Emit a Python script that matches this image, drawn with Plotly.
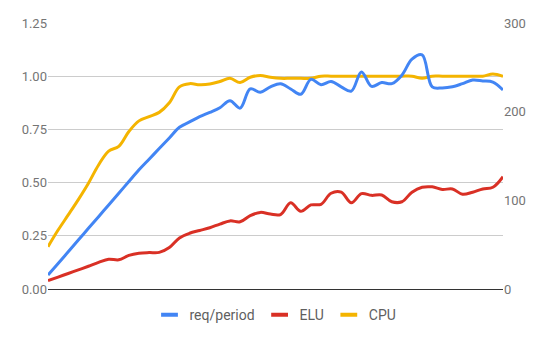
import plotly.graph_objects as go

idx = list(range(46))

req_fraction = [0.066, 0.12, 0.175, 0.23, 0.285, 0.34, 0.395, 0.45, 0.505, 0.56,
                0.61, 0.66, 0.71, 0.76, 0.785, 0.81, 0.83, 0.852, 0.885, 0.85,
                0.94, 0.925, 0.95, 0.965, 0.94, 0.915, 0.985, 0.96, 0.975, 0.95,
                0.93, 1.02, 0.952, 0.97, 0.965, 1.005, 1.08, 1.10, 0.95, 0.945,
                0.95, 0.965, 0.982, 0.978, 0.972, 0.935]
req_period = [round(v * 240, 1) for v in req_fraction]

elu = [0.039, 0.056, 0.073, 0.09, 0.107, 0.125, 0.14, 0.137, 0.158, 0.168,
       0.171, 0.172, 0.195, 0.24, 0.262, 0.275, 0.288, 0.305, 0.32, 0.316,
       0.345, 0.36, 0.352, 0.35, 0.405, 0.365, 0.395, 0.398, 0.45, 0.455,
       0.405, 0.448, 0.44, 0.442, 0.41, 0.41, 0.455, 0.478, 0.48, 0.468,
       0.47, 0.445, 0.455, 0.47, 0.478, 0.528]

cpu = [0.199, 0.277, 0.348, 0.42, 0.497, 0.583, 0.648, 0.67, 0.74, 0.79,
       0.81, 0.83, 0.875, 0.95, 0.965, 0.96, 0.963, 0.975, 0.99, 0.97,
       0.995, 1.003, 0.995, 0.99, 0.99, 0.99, 0.99, 1.0, 1.0, 1.0,
       1.0, 1.0, 1.0, 1.0, 1.0, 1.0, 1.0, 0.99, 1.0, 1.0,
       1.0, 1.0, 1.0, 1.0, 1.01, 1.0]

left_ticks = [0, 0.25, 0.5, 0.75, 1.0, 1.25]
right_ticks = [0, 100, 200, 300]

BLUE = "#4285F4"
RED = "#D93025"
YELLOW = "#F4B400"

fig = go.Figure()
fig.add_trace(go.Scatter(x=idx, y=req_period, yaxis="y2", mode="lines",
                         line=dict(color=BLUE, width=3, shape="spline", smoothing=1),
                         showlegend=False, name="req/period"))
fig.add_trace(go.Scatter(x=idx, y=elu, mode="lines",
                         line=dict(color=RED, width=3, shape="spline", smoothing=1),
                         showlegend=False, name="ELU"))
fig.add_trace(go.Scatter(x=idx, y=cpu, mode="lines",
                         line=dict(color=YELLOW, width=3, shape="spline", smoothing=1),
                         showlegend=False, name="CPU"))

for name, col in [("req/period", BLUE), ("ELU", RED), ("CPU", YELLOW)]:
    fig.add_trace(go.Scatter(x=[None], y=[None], mode="markers", name=name,
                             marker=dict(symbol="line-ew", size=12,
                                         line=dict(color=col, width=4))))

fig.update_layout(
    width=550, height=340,
    margin=dict(l=48, r=47, t=23, b=51, autoexpand=False),
    paper_bgcolor="white", plot_bgcolor="white",
    font=dict(family="Roboto, Arial, sans-serif", size=13, color="#757575"),
    xaxis=dict(range=[0, 45], showticklabels=False, showgrid=False, zeroline=False,
               showline=True, linecolor="#333333", linewidth=1, ticks=""),
    yaxis=dict(range=[0, 1.25], tickvals=left_ticks, tickformat=".2f",
               showgrid=True, gridcolor="#cccccc", gridwidth=1, zeroline=False,
               ticks="", tickfont=dict(color="#757575", size=13)),
    yaxis2=dict(range=[0, 300], tickvals=right_ticks, overlaying="y", side="right",
                showgrid=False, zeroline=False, ticks="",
                tickfont=dict(color="#757575", size=13)),
    legend=dict(orientation="h", x=0.5, xanchor="center", y=-0.098, yanchor="middle",
                font=dict(color="#5f5f5f", size=14), itemwidth=30,
                bgcolor="rgba(0,0,0,0)"),
)

fig.write_html("out.html")
